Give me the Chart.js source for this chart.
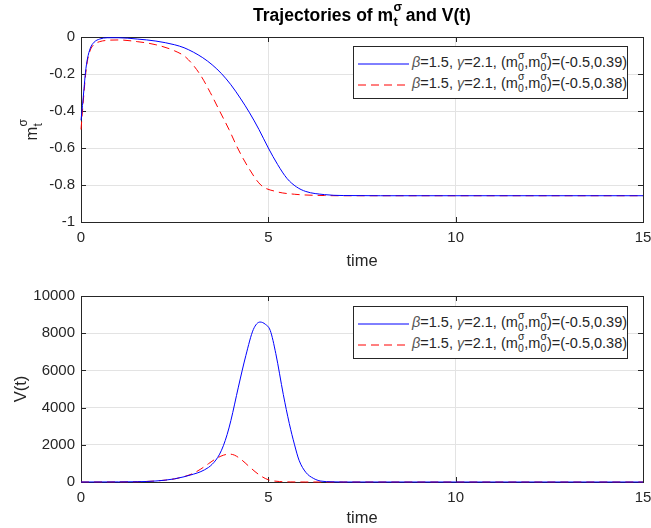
<!DOCTYPE html>
<html>
<head>
<meta charset="utf-8">
<script src="https://cdn.jsdelivr.net/npm/chart.js@4"></script>
<style>
  html, body { margin: 0; padding: 0; background: #fff; overflow: hidden; }
  body { width: 651px; height: 528px; position: relative; font-family: "Liberation Sans", Arial, sans-serif; color: #262626; }
  canvas { position: absolute; left: 0; }
  #c1 { top: 0; }
  #c2 { top: 280px; }
  .title { position: absolute; left: 81px; width: 562px; top: 5px; text-align: center; font-weight: bold; font-size: 17.5px; color: #000; }
  .ylab { position: absolute; font-size: 16.5px; white-space: nowrap; transform: translate(-50%, -50%) rotate(-90deg); }
  .legend { position: absolute; left: 353px; width: 273px; height: 51px; background: #fff; border: 1px solid #262626; font-size: 14.5px; }
  .row { position: absolute; left: 4px; height: 20px; white-space: nowrap; }
  .row svg { position: absolute; left: 0; top: 4px; }
  .row span.t { position: absolute; left: 54px; top: 0; }
  .gr { font-style: italic; color: #555; }
  /* stacked super/subscript pair */
  .ss { display: inline-block; position: relative; width: 0.62em; height: 0; font-size: 0.72em; vertical-align: baseline; }
  .ss .sp, .ss .sb { position: absolute; left: 0.02em; line-height: 1; }
  .ss .sp { top: -1.58em; }
  .ss .sb { top: -0.38em; }
</style>
</head>
<body>
<canvas id="c1" width="651" height="280"></canvas>
<canvas id="c2" width="651" height="248"></canvas>

<div class="title">Trajectories of m<span class="ss"><span class="sp">&sigma;</span><span class="sb">t</span></span> and V(t)</div>
<div class="ylab" style="left:31px; top:130px;">m<span class="ss"><span class="sp">&sigma;</span><span class="sb">t</span></span></div>
<div class="ylab" style="left:20px; top:389px;">V(t)</div>

<div class="legend" style="top:46px;" id="leg1"></div>
<div class="legend" style="top:306px;" id="leg2"></div>

<script>
// time grid + values
var tTop = [0, 0.04, 0.08, 0.12, 0.17, 0.25, 0.35, 0.5, 0.7, 1, 1.5, 2, 2.5, 2.75, 3, 3.25, 3.5, 3.75, 4, 4.25, 4.5, 4.75, 5, 5.25, 5.5, 5.75, 6, 6.5, 7, 8, 10, 15];
var mBlue = [-0.45, -0.37, -0.28, -0.19, -0.12, -0.06, -0.028, -0.011, -0.004, -0.004, -0.011, -0.022, -0.042, -0.058, -0.082, -0.112, -0.15, -0.198, -0.258, -0.33, -0.41, -0.5, -0.6, -0.69, -0.765, -0.81, -0.835, -0.852, -0.857, -0.858, -0.858, -0.858];
var tTopRed = [0, 0.04, 0.08, 0.12, 0.17, 0.25, 0.35, 0.5, 0.7, 1, 1.5, 2, 2.5, 2.8, 3.17, 3.45, 3.7, 3.95, 4.18, 4.45, 4.8, 5.2, 5.7, 6.5, 7, 8, 10, 15];
var mRed = [-0.5, -0.4, -0.3, -0.21, -0.13, -0.07, -0.04, -0.025, -0.018, -0.016, -0.025, -0.042, -0.075, -0.11, -0.2, -0.3, -0.4, -0.5, -0.6, -0.7, -0.8, -0.835, -0.85, -0.857, -0.858, -0.858, -0.858, -0.858];

var tBlueV = [0, 1, 1.5, 2, 2.5, 3, 3.2, 3.4, 3.5, 3.6, 3.7, 3.8, 3.9, 4, 4.2, 4.4, 4.6, 4.78, 4.92, 5.05, 5.2, 5.4, 5.56, 5.7, 5.82, 6, 6.2, 6.4, 6.7, 7, 10, 15];
var vBlue = [0, 5, 15, 55, 170, 420, 560, 780, 950, 1180, 1500, 1950, 2550, 3300, 5100, 6800, 8200, 8600, 8480, 8150, 6900, 4700, 3140, 2000, 1170, 520, 200, 50, 10, 0, 0, 0];
var tRedV = [0, 1, 1.5, 2, 2.5, 2.8, 3, 3.2, 3.4, 3.6, 3.8, 3.96, 4.1, 4.3, 4.5, 4.76, 5, 5.3, 5.6, 6, 10, 15];
var vRed = [0, 5, 15, 55, 170, 320, 470, 700, 980, 1250, 1440, 1500, 1440, 1170, 810, 380, 120, 25, 5, 0, 0, 0];

var legendLabels = ['0.39', '0.38'];
var blue = '#0000ff', red = '#ff0000', ink = '#262626';

function pts(xs, ys) {
    return xs.map(function(x, i) { return { x: x, y: ys[i] }; });
}

// axes box and inward ticks, MATLAB style
var boxPlugin = {
    id: 'box',
    beforeDatasetsDraw: function(chart) {
        var a = chart.chartArea, ctx = chart.ctx;
        var xs = chart.scales.x, ys = chart.scales.y;
        ctx.save();
        ctx.strokeStyle = ink;
        ctx.lineWidth = 1;
        ctx.strokeRect(Math.round(a.left) + 0.5, Math.round(a.top) + 0.5, Math.round(a.right - a.left), Math.round(a.bottom - a.top));
        ctx.beginPath();
        xs.ticks.forEach(function(t) {
            var p = Math.round(xs.getPixelForValue(t.value)) + 0.5;
            ctx.moveTo(p, a.bottom); ctx.lineTo(p, a.bottom - 5);
            ctx.moveTo(p, a.top); ctx.lineTo(p, a.top + 5);
        });
        ys.ticks.forEach(function(t) {
            var p = Math.round(ys.getPixelForValue(t.value)) + 0.5;
            ctx.moveTo(a.left, p); ctx.lineTo(a.left + 5, p);
            ctx.moveTo(a.right, p); ctx.lineTo(a.right - 5, p);
        });
        ctx.stroke();
        ctx.restore();
    }
};

function makeChart(id, datasets, yOpts, padTop, xHeight, titlePad) {
    return new Chart(document.getElementById(id), {
        type: 'line',
        data: { datasets: datasets },
        options: {
            responsive: false,
            animation: false,
            layout: { padding: { left: 0, right: 8, top: padTop, bottom: 0 } },
            plugins: { legend: { display: false }, tooltip: { enabled: false } },
            elements: { point: { radius: 0 } },
            scales: {
                x: {
                    type: 'linear', min: 0, max: 15,
                    ticks: { stepSize: 5, color: ink, padding: 7, maxRotation: 0, font: { family: 'Liberation Sans', size: 15 } },
                    grid: { color: '#e3e3e3', drawTicks: false },
                    border: { display: false },
                    title: { display: true, text: 'time', color: ink, padding: { top: 0, bottom: titlePad }, font: { family: 'Liberation Sans', size: 16.5 } },
                    afterFit: function(s) { s.height = xHeight; s.paddingLeft = 0; s.paddingRight = 0; }
                },
                y: Object.assign({
                    grid: { color: '#e3e3e3', drawTicks: false },
                    border: { display: false },
                    afterFit: function(s) { s.width = 81; s.paddingTop = 0; s.paddingBottom = 0; }
                }, yOpts)
            }
        },
        plugins: [boxPlugin]
    });
}

function line(data, color, dashed) {
    return {
        data: data,
        borderColor: color,
        borderWidth: 1,
        borderDash: dashed ? [8, 5] : [],
        cubicInterpolationMode: 'monotone',
        fill: false,
        clip: 4
    };
}

makeChart('c1', [
    line(pts(tTop, mBlue), blue, false),
    line(pts(tTopRed, mRed), red, true)
], {
    min: -1, max: 0,
    ticks: { stepSize: 0.2, color: ink, padding: 6, font: { family: 'Liberation Sans', size: 15 },
        callback: function(v) { return String(Math.round(v * 10) / 10); } }
}, 37, 58, 9);

makeChart('c2', [
    line(pts(tBlueV, vBlue), blue, false),
    line(pts(tRedV, vRed), red, true)
], {
    min: 0, max: 10000,
    ticks: { stepSize: 2000, color: ink, padding: 6, font: { family: 'Liberation Sans', size: 15 },
        callback: function(v) { return String(v); } }
}, 16, 46, 0);

// legends (HTML so the sub/superscripts stay real text)
function fillLegend(el) {
    var html = '';
    var ss = '<span class="ss"><span class="sp">&sigma;</span><span class="sb">0</span></span>';
    legendLabels.forEach(function(lbl, i) {
        var top = i === 0 ? 7 : 28;
        var sample = i === 0
            ? '<line x1="0" y1="6" x2="51" y2="6" stroke="' + blue + '" stroke-width="1"/>'
            : '<line x1="0" y1="6" x2="51" y2="6" stroke="' + red + '" stroke-width="1" stroke-dasharray="8,5"/>';
        html += '<div class="row" style="top:' + top + 'px"><svg width="52" height="12">' + sample + '</svg>' +
            '<span class="t"><span class="gr">&beta;</span>=1.5, <span class="gr">&gamma;</span>=2.1, (m' + ss + ',m' + ss + ')=(-0.5,' + lbl + ')</span></div>';
    });
    el.innerHTML = html;
}
fillLegend(document.getElementById('leg1'));
fillLegend(document.getElementById('leg2'));
</script>
</body>
</html>
